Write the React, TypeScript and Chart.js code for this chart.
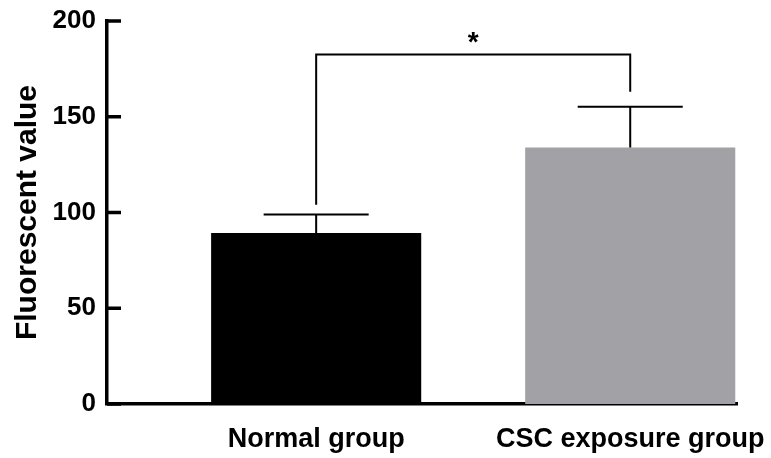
import React, { useEffect, useRef } from 'react';
import { Chart, registerables } from 'chart.js';

Chart.register(...registerables);

const categories = ['Normal group', 'CSC exposure group'];
const means = [89.3, 134.0];
const errors = [9.6, 21.2];
const barColors = ['#000000', '#a2a1a6'];
const yTicks = [0, 50, 100, 150, 200];
const bracketLevel = 182.5;
const bracketLegEnds = [104, 163];
const significance = '*';

const FONT = '"Liberation Sans", Arial, Helvetica, sans-serif';

const annotations = {
  id: 'annotations',
  afterDatasetsDraw(chart: any) {
    const ctx = chart.ctx;
    const xs = chart.scales.x;
    const ys = chart.scales.y;
    const meta = chart.getDatasetMeta(0);
    ctx.save();
    ctx.strokeStyle = '#000';
    ctx.lineCap = 'butt';
    means.forEach((m, i) => {
      const x = xs.getPixelForValue(i + 1);
      const yBar = ys.getPixelForValue(m);
      const yTop = ys.getPixelForValue(m + errors[i]);
      const half = (meta.data[i].width || 0) * 0.25;
      ctx.lineWidth = 2;
      ctx.beginPath();
      ctx.moveTo(x, yBar);
      ctx.lineTo(x, yTop);
      ctx.moveTo(x - half, yTop);
      ctx.lineTo(x + half, yTop);
      ctx.stroke();
    });
    const x1 = xs.getPixelForValue(1);
    const x2 = xs.getPixelForValue(2);
    const yb = ys.getPixelForValue(bracketLevel);
    ctx.lineWidth = 2;
    ctx.beginPath();
    ctx.moveTo(x1, ys.getPixelForValue(bracketLegEnds[0]));
    ctx.lineTo(x1, yb);
    ctx.lineTo(x2, yb);
    ctx.lineTo(x2, ys.getPixelForValue(bracketLegEnds[1]));
    ctx.stroke();
    ctx.fillStyle = '#000';
    ctx.font = `bold 28px ${FONT}`;
    ctx.textAlign = 'center';
    ctx.textBaseline = 'middle';
    ctx.fillText(significance, (x1 + x2) / 2, yb - 11);
    ctx.restore();
  },
  afterDraw(chart: any) {
    const ctx = chart.ctx;
    const ys = chart.scales.y;
    const left = chart.chartArea.left;
    ctx.save();
    ctx.strokeStyle = '#000';
    ctx.lineWidth = 3.5;
    ctx.beginPath();
    yTicks.forEach((v) => {
      const y = ys.getPixelForValue(v);
      ctx.moveTo(left, y);
      ctx.lineTo(left + 14, y);
    });
    ctx.stroke();
    ctx.restore();
  },
};

export default function App() {
  const ref = useRef<HTMLCanvasElement>(null);
  useEffect(() => {
    if (!ref.current) return;
    const chart = new Chart(ref.current, {
      type: 'bar',
      data: {
        datasets: [
          {
            data: means.map((m, i) => ({ x: i + 1, y: m })) as any,
            backgroundColor: barColors,
            borderWidth: 0,
            barPercentage: 0.669,
            categoryPercentage: 1,
          },
        ],
      },
      options: {
        responsive: false,
        animation: false,
        events: [],
        layout: { padding: { top: 21, right: 34, left: 0, bottom: 0 } },
        plugins: { legend: { display: false }, tooltip: { enabled: false } },
        scales: {
          x: {
            type: 'linear',
            min: 0.334,
            max: 2.34,
            offset: false,
            z: 1,
            grid: { display: false, drawTicks: false, offset: false },
            border: { display: true, color: '#000', width: 3.5 },
            afterBuildTicks: (scale: any) => {
              scale.ticks = categories.map((_, i) => ({ value: i + 1 }));
            },
            afterFit: (scale: any) => {
              scale.height = 54;
              scale.paddingLeft = 0;
              scale.paddingRight = 0;
            },
            ticks: {
              autoSkip: false,
              maxRotation: 0,
              minRotation: 0,
              padding: 19,
              color: '#000',
              font: { family: FONT, size: 27, weight: 'bold' },
              callback: (v: any) => categories[Math.round(Number(v)) - 1] ?? '',
            },
          },
          y: {
            min: 0,
            max: 200,
            z: 1,
            grid: { display: false, drawTicks: false },
            border: { display: true, color: '#000', width: 3.5 },
            afterBuildTicks: (scale: any) => {
              scale.ticks = yTicks.map((v) => ({ value: v }));
            },
            afterFit: (scale: any) => {
              scale.width = 107;
              scale.paddingTop = 0;
              scale.paddingBottom = 0;
            },
            ticks: {
              padding: 11,
              color: '#000',
              font: { family: FONT, size: 26, weight: 'bold' },
            },
            title: {
              display: true,
              text: 'Fluorescent value',
              color: '#000',
              padding: { top: 10, bottom: 0 },
              font: { family: FONT, size: 30, weight: 'bold' },
            },
          },
        },
      },
      plugins: [annotations],
    } as any);
    return () => chart.destroy();
  }, []);
  return (
    <div style={{ position: 'absolute', left: 0, top: 0, width: 771, height: 458, background: '#fff' }}>
      <canvas ref={ref} width={771} height={458} />
    </div>
  );
}
